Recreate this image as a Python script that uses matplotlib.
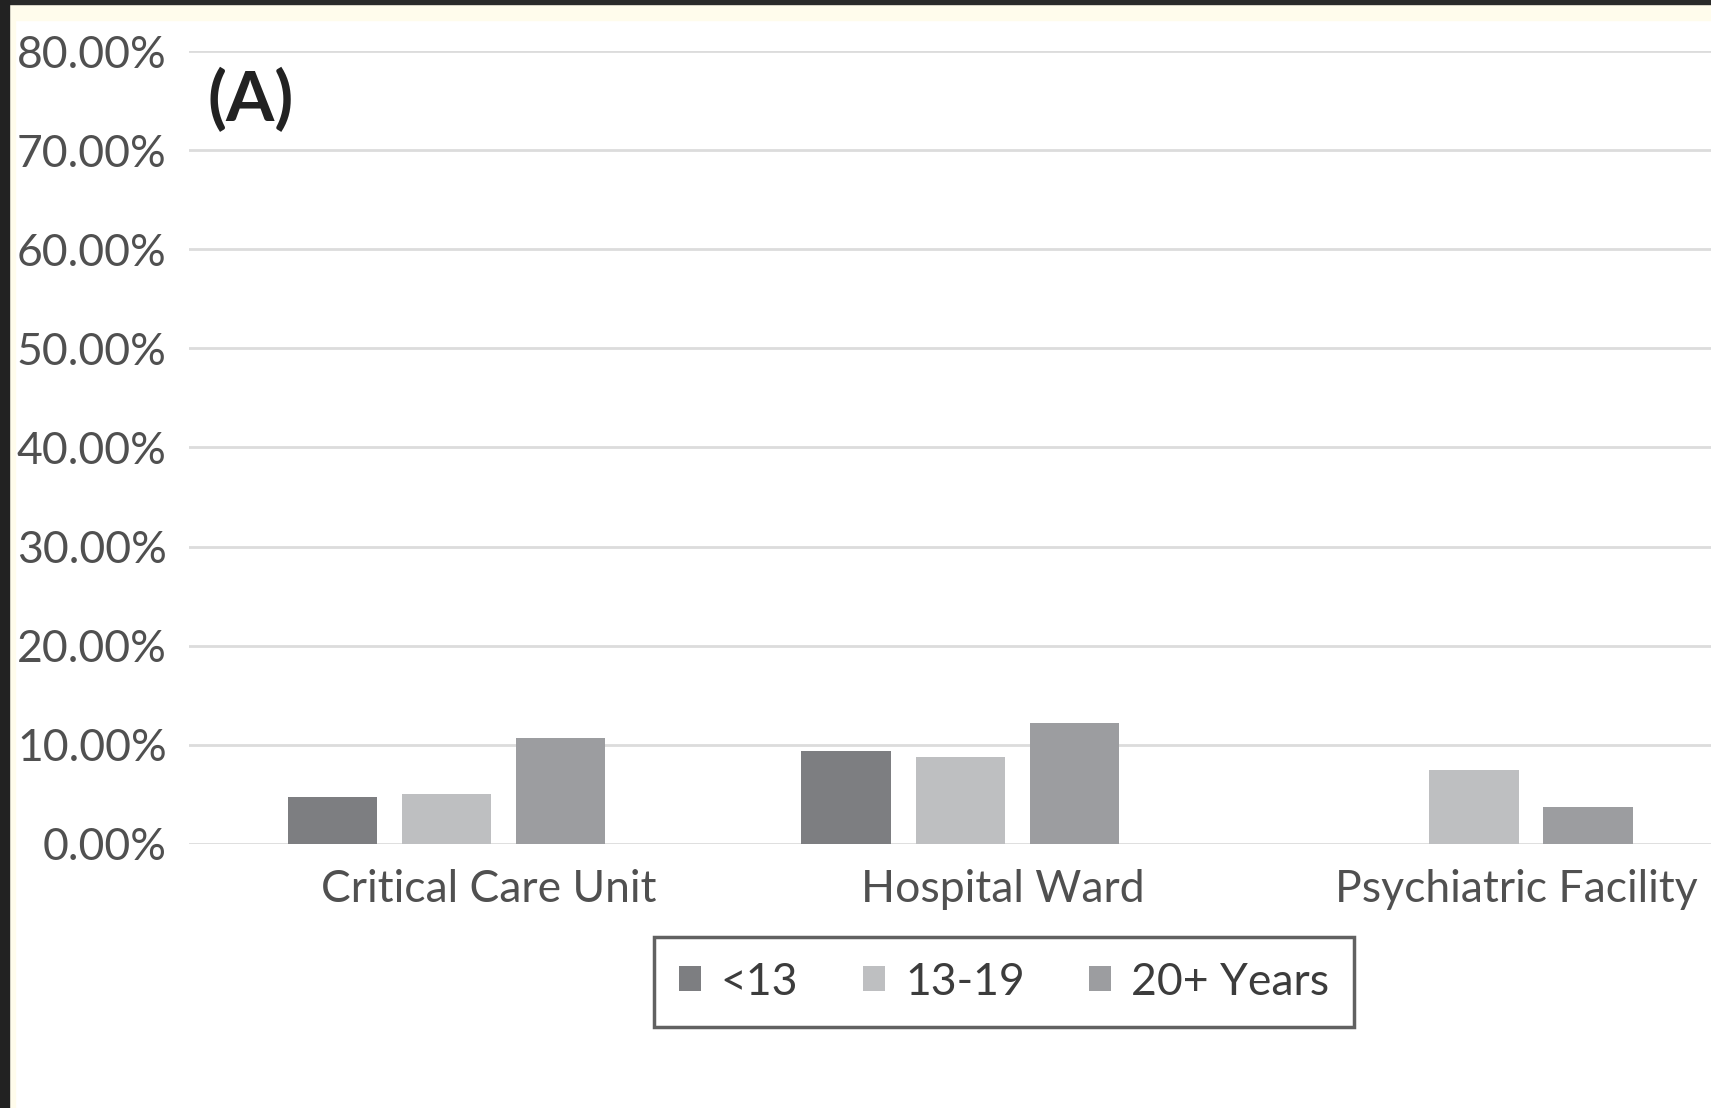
import numpy as np
import matplotlib.pyplot as plt
from matplotlib.patches import Rectangle
from matplotlib.ticker import FuncFormatter

categories = ["Critical Care Unit", "Hospital Ward", "Psychiatric Facility"]
series = ["<13", "13-19", "20+ Years"]
under13 = [0.047, 0.094, 0.0]
teens = [0.050, 0.087, 0.074]
adults = [0.107, 0.122, 0.037]
colors = ["#7d7e81", "#bebfc1", "#9c9da0"]

plt.rcParams["font.family"] = ["Lato", "DejaVu Sans"]

fig = plt.figure(figsize=(17.11, 11.08), dpi=100)
fig.patch.set_facecolor("white")
ax = fig.add_axes([0.1104, 0.2386, 0.8896, 0.7151])

x = np.arange(len(categories))
step = 0.222
width = 0.174
shift = -0.083
for i, (vals, name) in enumerate(zip([under13, teens, adults], series)):
    ax.bar(x + (i - 1) * step + shift, vals, width, color=colors[i], label=name, zorder=3)

ax.set_ylim(0, 0.8)
ax.set_xlim(-0.584, 2.378)
ax.set_yticks(np.arange(0, 0.81, 0.1))
ax.yaxis.set_major_formatter(FuncFormatter(lambda v, p: "%.2f%%" % (v * 100)))
ax.set_xticks(x)
ax.set_xticklabels(categories)
ax.tick_params(axis="both", length=0, labelsize=32, colors="#505050")
ax.tick_params(axis="y", pad=16)
ax.tick_params(axis="x", pad=18)
ax.yaxis.grid(True, color="#dcdcdc", lw=2, zorder=0)
for s in ax.spines.values():
    s.set_visible(False)

ax.text(0.012, 0.938, "(A)", transform=ax.transAxes, fontsize=50, fontweight="bold",
        color="#222222", ha="left", va="center")

leg = ax.legend(loc="center", bbox_to_anchor=(0.5868, 0.1137), bbox_transform=fig.transFigure,
                ncol=3, fontsize=32, frameon=True, fancybox=False, handlelength=0.5,
                handleheight=0.5, handletextpad=0.45, columnspacing=1.45, borderpad=0.55)
leg.get_frame().set_edgecolor("#3a3a3a")
leg.get_frame().set_linewidth(2.5)
for t in leg.get_texts():
    t.set_color("#3c3c3c")

# screenshot border
W, H = 1711, 1108
fig.patches.append(Rectangle((0, 1 - 20 / H), 1, 16 / H, transform=fig.transFigure,
                             color="#fffcec", zorder=0))
fig.patches.append(Rectangle((9 / W, 0), 6 / W, 1, transform=fig.transFigure,
                             color="#fffcec", zorder=0))
fig.patches.append(Rectangle((0, 1 - 4 / H), 1, 4 / H, transform=fig.transFigure,
                             color="#2a2a2a", zorder=1))
fig.patches.append(Rectangle((0, 0), 9 / W, 1, transform=fig.transFigure,
                             color="#222222", zorder=1))

plt.savefig("out.png", dpi=100)
